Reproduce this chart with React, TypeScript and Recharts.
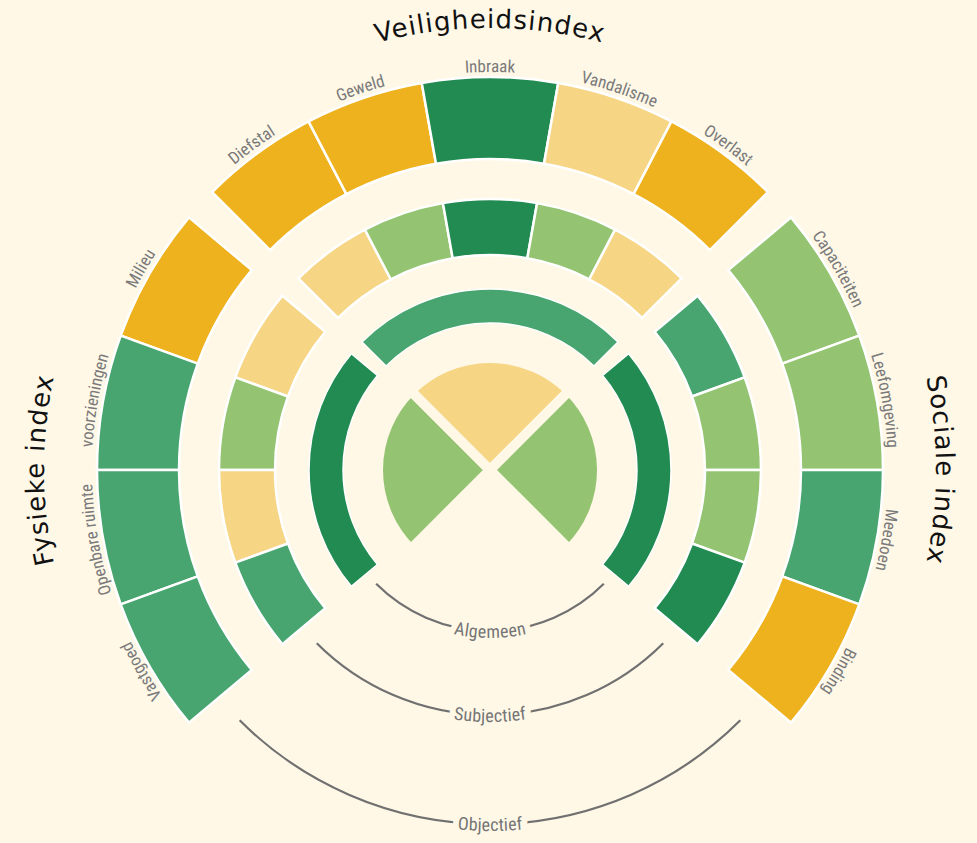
import React from "react"
import { PieChart, Pie, Cell } from "recharts"

const W = 977
const H = 843
const CX = 490
const CY = 470
const BG = "#fff8e7"
const RAD = Math.PI / 180

// score 1 (slecht) .. 5 (goed)
const scoreColors = ["#eeb21e", "#f6d584", "#94c472", "#48a56f", "#218b52"]

const veiligheidTopics = ["Diefstal", "Geweld", "Inbraak", "Vandalisme", "Overlast"]
const veiligheidWeight = [7, 7, 8, 7, 7]
const veiligheidObjectief = [1, 1, 5, 2, 1]
const veiligheidSubjectief = [2, 3, 5, 3, 2]

const socialeTopics = ["Capaciteiten", "Leefomgeving", "Meedoen", "Binding"]
const socialeWeight = [1, 1, 1, 1]
const socialeObjectief = [3, 3, 4, 1]
const socialeSubjectief = [4, 3, 3, 5]

const fysiekeTopics = ["Milieu", "voorzieningen", "Openbare ruimte", "Vastgoed"]
const fysiekeWeight = [1, 1, 1, 1]
const fysiekeObjectief = [1, 4, 4, 4]
const fysiekeSubjectief = [2, 3, 2, 4]

// order: fysieke, veiligheid, sociale
const indexNames = ["Fysieke index", "Veiligheidsindex", "Sociale index"]
const indexAlgemeen = [5, 4, 5]
const indexTotaal = [3, 2, 3]

const layerNames = ["Algemeen", "Subjectief", "Objectief"]

const groups = [
  { key: "fys", topics: fysiekeTopics, weight: fysiekeWeight, obj: fysiekeObjectief, subj: fysiekeSubjectief, alg: indexAlgemeen[0], start: 140, end: 220 },
  { key: "vei", topics: veiligheidTopics, weight: veiligheidWeight, obj: veiligheidObjectief, subj: veiligheidSubjectief, alg: indexAlgemeen[1], start: 135, end: 45 },
  { key: "soc", topics: socialeTopics, weight: socialeWeight, obj: socialeObjectief, subj: socialeSubjectief, alg: indexAlgemeen[2], start: 40, end: -40 },
]

const pt = (r: number, a: number) =>
  `${(CX + r * Math.cos(a * RAD)).toFixed(2)} ${(CY - r * Math.sin(a * RAD)).toFixed(2)}`

const labelFont = "'Roboto Condensed', 'Liberation Sans Narrow', 'DejaVu Sans Condensed', Roboto, sans-serif"

function renderTopicLabel(props: any) {
  const { cx, cy, midAngle, outerRadius } = props
  const name: string = props.payload?.name ?? props.name
  const r = outerRadius + 5
  const id = "lbl-" + name.replace(/\s+/g, "-")
  const p = (a: number) =>
    `${(cx + r * Math.cos(a * RAD)).toFixed(2)} ${(cy - r * Math.sin(a * RAD)).toFixed(2)}`
  const d = `M ${p(midAngle + 40)} A ${r} ${r} 0 0 1 ${p(midAngle - 40)}`
  return (
    <g key={id}>
      <path id={id} d={d} fill="none" stroke="none" />
      <text fontFamily={labelFont} fontSize={17} fill="#7a7a7a" stroke="none">
        <textPath href={`#${id}`} startOffset="50%" textAnchor="middle">
          {name}
        </textPath>
      </text>
    </g>
  )
}

export default function App() {
  const centre = indexNames.map((name, i) => ({ name, value: 1, score: indexTotaal[i] }))
  const layerRadius = [161, 245, 354]

  return (
    <div style={{ position: "absolute", left: 0, top: 0, width: W, height: H, background: BG, overflow: "hidden" }}>
      <PieChart width={W} height={H} margin={{ top: 0, right: 0, bottom: 0, left: 0 }}>
        {groups.map((g) => {
          const outer = g.topics.map((name, i) => ({ name, value: g.weight[i], score: g.obj[i] }))
          const middle = g.topics.map((name, i) => ({ name, value: g.weight[i], score: g.subj[i] }))
          const inner = [{ name: g.key, value: 1, score: g.alg }]
          return [
            <Pie
              key={g.key + "-obj"}
              data={outer}
              dataKey="value"
              nameKey="name"
              cx={CX}
              cy={CY}
              innerRadius={311}
              outerRadius={393}
              startAngle={g.start}
              endAngle={g.end}
              stroke="#ffffff"
              strokeWidth={2.5}
              label={renderTopicLabel}
              labelLine={false}
              isAnimationActive={false}
            >
              {outer.map((d, i) => (
                <Cell key={i} fill={scoreColors[d.score - 1]} />
              ))}
            </Pie>,
            <Pie
              key={g.key + "-subj"}
              data={middle}
              dataKey="value"
              cx={CX}
              cy={CY}
              innerRadius={215}
              outerRadius={271}
              startAngle={g.start}
              endAngle={g.end}
              stroke="#ffffff"
              strokeWidth={2.5}
              isAnimationActive={false}
            >
              {middle.map((d, i) => (
                <Cell key={i} fill={scoreColors[d.score - 1]} />
              ))}
            </Pie>,
            <Pie
              key={g.key + "-alg"}
              data={inner}
              dataKey="value"
              cx={CX}
              cy={CY}
              innerRadius={147}
              outerRadius={181}
              startAngle={g.start}
              endAngle={g.end}
              stroke="#ffffff"
              strokeWidth={1.5}
              isAnimationActive={false}
            >
              {inner.map((d, i) => (
                <Cell key={i} fill={scoreColors[d.score - 1]} />
              ))}
            </Pie>,
          ]
        })}
        <Pie
          data={centre}
          dataKey="value"
          cx={CX}
          cy={CY}
          innerRadius={0}
          outerRadius={112}
          startAngle={225}
          endAngle={-45}
          stroke={BG}
          strokeWidth={10}
          isAnimationActive={false}
        >
          {centre.map((d, i) => (
            <Cell key={i} fill={scoreColors[d.score - 1]} />
          ))}
        </Pie>
      </PieChart>

      <svg width={W} height={H} style={{ position: "absolute", left: 0, top: 0, pointerEvents: "none" }}>
        {indexNames.map((name, i) => {
          const mid = [180, 90, 0][i]
          const r = i === 1 ? 442 : 446
          const id = "title-" + i
          return (
            <g key={id}>
              <path id={id} d={`M ${pt(r, mid + 40)} A ${r} ${r} 0 0 1 ${pt(r, mid - 40)}`} fill="none" />
              <text fontFamily="'DejaVu Sans', sans-serif" fontSize={26} letterSpacing={1.1} fill="#111111">
                <textPath href={`#${id}`} startOffset="50%" textAnchor="middle">
                  {name}
                </textPath>
              </text>
            </g>
          )
        })}
        {layerNames.map((name, i) => {
          const r = layerRadius[i]
          const id = "layer-" + i
          return (
            <g key={id}>
              <path id={id} d={`M ${pt(r, 225)} A ${r} ${r} 0 0 0 ${pt(r, 315)}`} fill="none" stroke="#707070" strokeWidth={2.2} />
              <text fontFamily={labelFont} fontSize={18} fill={BG} stroke={BG} strokeWidth={12} strokeLinejoin="round" dominantBaseline="central">
                <textPath href={`#${id}`} startOffset="50%" textAnchor="middle">
                  {name}
                </textPath>
              </text>
              <text fontFamily={labelFont} fontSize={18} fill="#757575" dominantBaseline="central">
                <textPath href={`#${id}`} startOffset="50%" textAnchor="middle">
                  {name}
                </textPath>
              </text>
            </g>
          )
        })}
      </svg>
    </div>
  )
}
